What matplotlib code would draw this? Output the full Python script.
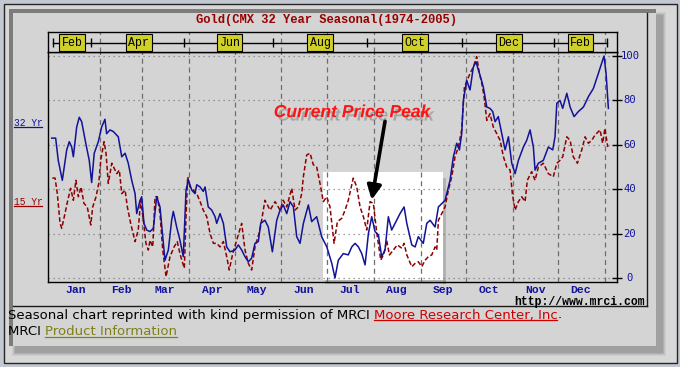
import matplotlib
matplotlib.use("Agg")
import matplotlib.pyplot as plt
import matplotlib.patheffects as pe
from matplotlib.patches import Rectangle

# ── Data (day of year, seasonal index 0-100) ─────────────────────────────────

yr32_days = [-0.9, 1.7, 3.4, 6.1, 9.0, 10.7, 12.3, 13.4, 15.6, 17.3, 18.9, 21.6, 23.9, 25.5,
             27.2, 29.9, 32.1, 34.3, 35.4, 37.6, 39.8, 43.1, 45.4, 47.6, 49.7, 52.0, 54.2,
             55.3, 57.5, 58.6, 60.1, 61.9, 64.1, 66.3, 68.5, 70.7, 72.5, 74.0, 76.2, 78.4,
             79.5, 81.7, 83.9, 86.1, 87.9, 89.4, 91.7, 93.8, 95.0, 97.2, 99.3, 100.5, 102.6,
             104.9, 107.1, 108.2, 110.4, 112.6, 114.8, 117.0, 120.3, 122.5, 124.7, 126.9,
             129.1, 131.3, 133.5, 135.7, 137.3, 140.1, 142.3, 145.0, 147.9, 150.1, 152.2,
             154.5, 156.7, 158.9, 161.1, 163.3, 165.5, 168.8, 171.0, 174.3, 177.6, 181.0,
             184.3, 186.4, 188.6, 191.9, 195.2, 197.5, 199.7, 201.9, 204.1, 206.3, 208.5,
             210.7, 212.9, 215.1, 217.3, 219.5, 221.7, 223.9, 227.2, 229.4, 232.1, 233.9,
             237.2, 239.4, 241.5, 244.8, 247.1, 249.3, 252.6, 254.8, 259.2, 262.5, 264.7,
             266.9, 268.7, 270.2, 271.3, 273.5, 275.7, 277.9, 279.7, 281.2, 282.3, 284.5,
             286.8, 288.9, 290.7, 292.3, 294.4, 296.7, 298.9, 301.1, 303.3, 305.5, 307.7,
             311.0, 313.2, 315.4, 317.6, 318.7, 320.9, 324.2, 327.5, 330.4, 331.9, 333.1,
             335.2, 337.0, 339.7, 341.9, 344.5, 347.4, 350.7, 354.0, 357.3, 360.6, 364.3,
             365.7, 367.2]
yr32_vals = [63, 63, 53, 44, 57.7, 61.4, 59, 54.6, 68, 72.4, 70.4, 60.7, 53, 43,
             56.2, 61.4, 68, 71.5, 65, 66.7, 66, 63.6, 54.6, 56.2, 51.7, 44, 38,
             29, 35, 36.6, 24.6, 21.6, 20.9, 22.4, 36.6, 32, 18.6, 8, 12.6, 26,
             30, 23, 17, 9.6, 39.6, 44, 39.6, 38, 42, 41, 39, 41, 32,
             30.6, 27.6, 24.6, 29, 24.6, 14, 11.8, 12.6, 14.9, 12.6, 9.6,
             7.3, 8.9, 15.6, 16.4, 24.6, 26, 23, 11.8, 26, 30.6, 32.9,
             29, 34.4, 32, 18.6, 15.6, 24.6, 32.9, 25.4, 27.6, 18.6, 14,
             6.6, 0, 8, 11, 10.4, 14, 15.6, 14, 11, 5.9, 20,
             27.6, 20.9, 19.4, 9.6, 12.6, 27.6, 21.6, 26, 29, 32, 24.6,
             14.9, 14, 18.6, 15.6, 24.6, 26, 23, 32, 35, 44, 54.6,
             60.7, 57.7, 65, 80, 89, 84.7, 95, 97.4, 93.7, 91.4, 86,
             77, 76.4, 75, 70.4, 72.7, 65, 57.7, 63.6, 51.7, 47, 53,
             59, 62, 66.7, 59, 48.6, 51.7, 53, 59, 57.7, 63.6, 78.7,
             80, 76.4, 83.2, 77, 72.7, 75, 77, 81.7, 85.4, 92.2, 100,
             92, 76.4]

yr15_days = [-0.5, 1.3, 2.8, 4.6, 5.7, 7.4, 9.7, 11.6, 13.4, 15.1, 16.7, 18.5, 20.4, 22.6,
             24.9, 26.2, 28.4, 30.2, 31.5, 33.7, 35.0, 36.5, 38.8, 42.1, 43.8, 45.4, 47.6,
             49.1, 51.3, 54.2, 56.3, 57.9, 59.7, 61.4, 63.0, 64.1, 65.9, 67.4, 68.9, 70.7,
             72.5, 74.7, 77.3, 80.0, 82.1, 83.9, 85.1, 86.8, 87.9, 89.0, 90.5, 92.7, 95.0,
             97.2, 99.3, 101.6, 103.8, 106.0, 108.2, 110.4, 112.6, 114.8, 116.5, 118.8,
             121.4, 124.7, 126.9, 129.1, 131.3, 133.5, 136.8, 140.1, 143.5, 146.8, 150.1,
             152.2, 154.5, 157.8, 160.0, 162.2, 164.4, 165.5, 167.7, 169.9, 172.1, 174.3,
             176.5, 178.7, 181.0, 183.1, 185.8, 188.0, 190.9, 193.1, 195.2, 198.5, 200.8,
             203.0, 205.2, 207.4, 209.6, 211.8, 212.9, 214.4, 216.7, 218.8, 220.6, 222.4,
             225.0, 227.6, 230.6, 232.1, 233.9, 237.2, 239.4, 241.5, 243.8, 246.0, 248.1,
             250.4, 252.6, 253.7, 254.8, 257.0, 259.2, 261.4, 263.6, 265.8, 268.0, 270.2,
             272.0, 273.5, 275.7, 277.9, 280.1, 281.9, 283.5, 285.0, 286.8, 288.9, 291.1,
             293.4, 295.6, 297.8, 300.0, 302.2, 303.7, 305.5, 307.7, 309.9, 312.1, 313.6,
             316.5, 318.7, 320.9, 324.2, 327.5, 330.8, 333.1, 335.2, 337.0, 339.7, 341.9,
             344.0, 346.7, 349.6, 351.8, 354.0, 356.2, 358.4, 361.7, 363.4, 364.9, 366.8]
yr15_vals = [45, 45, 38, 24.6, 22.4, 27.6, 35, 40.4, 35, 44, 36.6, 41, 33.6, 32,
             23.9, 32, 36.6, 42.6, 53, 61.4, 56.2, 42.6, 51.7, 47, 48.6, 38, 39.6,
             32, 24.6, 16.4, 21.6, 35, 26, 15.6, 12.6, 17, 14, 36.6, 36.6, 29,
             12.6, 0.6, 9.6, 14, 16.4, 11, 8, 4.4, 27.6, 45.6, 41, 39.6, 38,
             34.4, 30.6, 27.6, 20, 15.6, 15.6, 14, 16.4, 9.6, 3.6, 11,
             17, 24.6, 12.6, 6.6, 3.6, 14, 21.6, 35, 30.6, 34.4, 30.6,
             35, 32, 40.4, 30.6, 32, 38, 45.6, 55.4, 56.2, 51, 50,
             42.6, 34.4, 36.6, 32, 15.6, 25.4, 26.9, 30.6, 35, 45, 41,
             32, 27.6, 21.6, 34.4, 33.6, 26.9, 18.6, 8, 11, 17, 10.4,
             12.6, 14.9, 13.4, 15.6, 10.4, 5.1, 6.6, 7.3, 5.1, 8, 9.6,
             10.4, 14, 12.6, 26, 29, 32, 39.6, 45.6, 54.6, 59, 66.7,
             86, 88.4, 92.2, 95, 99.7, 92.2, 87.7, 81.7, 71, 74, 68,
             65, 62, 54.6, 50, 48.6, 38, 30.6, 34.4, 36.6, 34.4, 44,
             47.9, 44, 50, 51.7, 47, 45.6, 51.7, 53, 54.6, 63.6, 62,
             54.6, 51.7, 57.7, 63.6, 60.7, 62, 64.4, 66.7, 60.7, 67.4, 59]

month_labels = ["Jan", "Feb", "Mar", "Apr", "May", "Jun",
                "Jul", "Aug", "Sep", "Oct", "Nov", "Dec"]
month_mid_days = [15, 45, 74, 105, 135, 166, 196, 227, 258, 288, 319, 349]
month_start_days = [31, 59, 90, 120, 151, 181, 212, 243, 273, 304, 334, 365]
value_ticks = [0, 20, 40, 60, 80, 100]

strip_labels = ["Feb", "Apr", "Jun", "Aug", "Oct", "Dec", "Feb"]
strip_label_days = [12.5, 56.8, 116.7, 176.5, 239.2, 301.4, 348.8]
strip_tick_days = [-0.3, 24.9, 86.6, 145.4, 207.4, 270.2, 331.5, 366.1]

TITLE = "Gold(CMX 32 Year Seasonal(1974-2005)"

# ── Colours / fonts ───────────────────────────────────────────────────────────

BLUE = "#12129a"
DRED = "#8e0000"
PANEL = "#d4d4d4"
MONO = ["Liberation Mono", "DejaVu Sans Mono"]

W, H = 680, 367
fig = plt.figure(figsize=(W / 100, H / 100), dpi=100)
fig.patch.set_facecolor("#c4c8d0")

# background axes in pixel coordinates (frame, panel, captions)
bg = fig.add_axes([0, 0, 1, 1], zorder=-5)
bg.set_xlim(0, W)
bg.set_ylim(H, 0)
bg.axis("off")


def rect(x0, y0, x1, y1, **kw):
    bg.add_patch(Rectangle((x0, y0), x1 - x0, y1 - y0, **kw))


rect(3.5, 3.5, 676.5, 362.5, fc="#d8d8d8", ec="#262626", lw=1)
for k, a in enumerate([0.08, 0.12, 0.16, 0.20]):
    rect(12 + k, 12 + k, 666 - k, 356 - k, fc="#606060", ec="none", alpha=a)
rect(9, 9, 656, 346, fc=PANEL, ec="none")
rect(9, 9, 656, 13, fc="#7c7c7c", ec="none")
rect(9, 9, 13, 346, fc="#7c7c7c", ec="none")
bg.plot([13, 647], [305.5, 305.5], color="#1a1a1a", lw=1)
bg.plot([647, 647], [13, 305.5], color="#1a1a1a", lw=1)

bg.text(327, 19.5, TITLE, color="#990000", family=MONO, weight="bold",
        fontsize=8.7, ha="center", va="center")
bg.text(645, 301.5, "http://www.mrci.com", color="black", family=MONO,
        weight="bold", fontsize=8.3, ha="right", va="center")

# ── Main plot axes ────────────────────────────────────────────────────────────

ax = fig.add_axes([48 / W, 1 - 281.7 / H, 569 / W, 229.7 / H])
ax.set_facecolor(PANEL)
ax.set_xlim(-3.37, 372.9)
ax.set_ylim(-1.67, 101.8)

for d in month_start_days:
    ax.axvline(d, color="#6e6e6e", lw=0.9, ls=(0, (4, 3)), zorder=1)
for v in value_ticks:
    ax.axhline(v, color="#808080", lw=0.9, ls=(0, (1, 3)), zorder=1)

# highlighted window behind the curves
ax.add_patch(Rectangle((178.6, -0.9), 79.3, 48.6, fc="white", ec="none",
                       zorder=0.8))
ax.add_patch(Rectangle((257.9, -2.6), 2.0, 47.6, fc="#8a8a8a", ec="none",
                       alpha=0.45, zorder=0.7, clip_on=False))
ax.add_patch(Rectangle((180.0, -2.6), 79.9, 1.7, fc="#8a8a8a", ec="none",
                       alpha=0.45, zorder=0.7, clip_on=False))

ax.plot(yr15_days, yr15_vals, color=DRED, lw=1.1, ls=(0, (3, 1.6)), zorder=3)
ax.plot(yr32_days, yr32_vals, color=BLUE, lw=1.1, zorder=4)

for side in ["left", "right", "bottom", "top"]:
    ax.spines[side].set_color("black")
    ax.spines[side].set_linewidth(1)

ax.yaxis.tick_right()
ax.set_yticks(value_ticks)
ax.set_yticklabels([])
ax.tick_params(axis="y", direction="inout", length=7, width=1, color="black")
for v in value_ticks:
    ax.text(1.0228, v, str(v), transform=ax.get_yaxis_transform(),
            color=BLUE, family=["DejaVu Sans Mono"], fontsize=7.6,
            ha="center", va="center")

ax.set_xticks(month_mid_days)
ax.set_xticklabels(month_labels, color=BLUE, family=MONO, weight="bold",
                   fontsize=8.2)
ax.tick_params(axis="x", length=0, pad=2.2)

# annotation
ax.annotate("", xy=(210.7, 35.2), xytext=(219.5, 70.6),
            arrowprops=dict(arrowstyle="-|>,head_length=0.85,head_width=0.42",
                            color="black", lw=2.6, shrinkA=0, shrinkB=0),
            zorder=6)
ax.text(197.7, 74.5, "Current Price Peak", color="#ff1414",
        family=["Liberation Sans", "DejaVu Sans"], weight="bold",
        style="italic", fontsize=12.6, ha="center", va="center", zorder=7,
        path_effects=[pe.withSimplePatchShadow(offset=(2.5, -2.5),
                                               shadow_rgbFace="#707070",
                                               alpha=0.45)])

# ── Contract-month strip on top ───────────────────────────────────────────────

st = fig.add_axes([48 / W, 1 - 52 / H, 569 / W, 20.3 / H])
st.set_facecolor(PANEL)
st.set_xlim(ax.get_xlim())
st.set_ylim(0, 1)
st.set_xticks([])
st.set_yticks([])
for side in ["left", "right", "top", "bottom"]:
    st.spines[side].set_color("black")
    st.spines[side].set_linewidth(1)
for d in month_start_days:
    st.axvline(d, color="#6e6e6e", lw=0.9, ls=(0, (4, 3)), zorder=1)
st.plot([strip_tick_days[0], strip_tick_days[-1]], [0.46, 0.46],
        color="black", lw=1, zorder=2)
st.vlines(strip_tick_days, 0.24, 0.70, color="black", lw=1, zorder=2)
for d, lab in zip(strip_label_days, strip_labels):
    st.text(d, 0.46, lab, ha="center", va="center", family=MONO,
            fontsize=8.4, color="black", zorder=3,
            bbox=dict(boxstyle="square,pad=0.2", fc="#d0d02a", ec="black",
                      lw=0.8))

# ── Captions with underlined links ────────────────────────────────────────────

fig.canvas.draw()
renderer = fig.canvas.get_renderer()
inv = bg.transData.inverted()


def extent(t):
    bb = t.get_window_extent(renderer)
    (x0, y0), (x1, y1) = inv.transform([[bb.x0, bb.y0], [bb.x1, bb.y1]])
    return x0, x1, max(y0, y1)


def run(x, y, parts, size, family):
    for s, color, underline in parts:
        t = bg.text(x, y, s, color=color, fontsize=size, family=family,
                    ha="left", va="center")
        x0, x1, yb = extent(t)
        if underline:
            bg.plot([x0, x1], [yb - 1.2, yb - 1.2], color=color, lw=0.9)
        x = x1


SANS = ["DejaVu Sans"]
run(7.5, 315, [("Seasonal chart reprinted with kind permission of MRCI ", "black", False),
               ("Moore Research Center, Inc", "#cc0000", True),
               (".", "black", False)], 9.5, SANS)
run(7.5, 331.5, [("MRCI ", "black", False),
                 ("Product Information", "#7e7e1c", True)], 9.5, SANS)

run(13.5, 123.3, [("32 Yr", BLUE, True)], 6.9, MONO)
run(13.5, 201.7, [("15 Yr", "#9a0000", True)], 6.9, MONO)

fig.savefig("out.png", dpi=100)
